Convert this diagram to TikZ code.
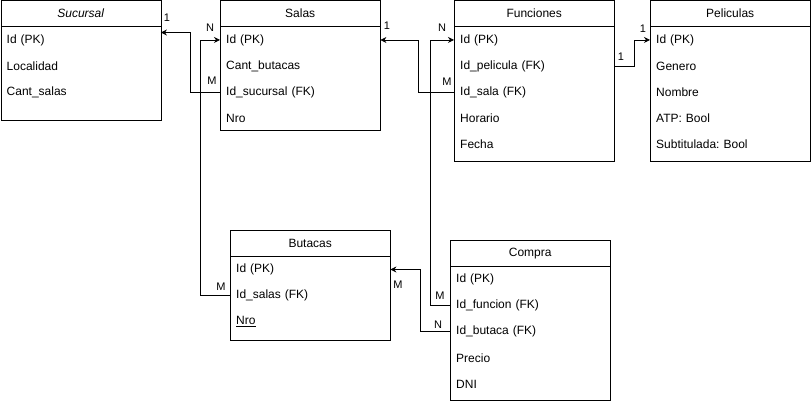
\documentclass[tikz,border=0pt]{standalone}
\usepackage{fontspec}
\setmainfont{Liberation Sans}
\usepackage{tikz}
\usetikzlibrary{arrows.meta,positioning}

\tikzset{
    tbl/.style={draw, rectangle, minimum width=160pt, anchor=north west, inner sep=0pt},
    head/.style={draw, rectangle, minimum width=160pt, minimum height=26pt, anchor=north, inner sep=0pt},
    field/.style={minimum height=25.75pt, text width=148pt, align=left, inner xsep=6pt, inner ysep=0pt, anchor=north},
    arrow/.style={-{Stealth[length=6pt,width=6pt]}, line width=0.8pt},
    card/.style={font=\fontsize{11}{12}\selectfont, inner sep=0pt}
}

\begin{document}
\frenchspacing
\begin{tikzpicture}[
    x=1pt, y=1pt,
    node distance=0pt,
    font=\fontsize{12}{14}\selectfont
]
    \useasboundingbox (0,0) rectangle (811,-401);

    % Sucursal
    \node[tbl, minimum height=120pt] (sucursal) at (0.5,-0.5) {};
    \node[head] (sucursal-h) at (sucursal.north) {\itshape Sucursal};
    \node[field, below=of sucursal-h] (suc-id) {Id (PK)};
    \node[field, below=of suc-id] (suc-loc) {Localidad};
    \node[field, below=of suc-loc] (suc-cant) {Cant\_salas};

    % Salas
    \node[tbl, minimum height=130pt] (salas) at (220,-0.5) {};
    \node[head] (salas-h) at (salas.north) {Salas};
    \node[field, below=of salas-h] (salas-id) {Id (PK)};
    \node[field, below=of salas-id] (salas-cant) {Cant\_butacas};
    \node[field, below=of salas-cant] (salas-fk) {Id\_sucursal (FK)};
    \node[field, below=of salas-fk] (salas-nro) {Nro};

    % Funciones
    \node[tbl, minimum height=160pt] (func) at (454,-0.5) {};
    \node[head] (func-h) at (func.north) {Funciones};
    \node[field, below=of func-h] (func-id) {Id (PK)};
    \node[field, below=of func-id] (func-peli) {Id\_pelicula (FK)};
    \node[field, below=of func-peli] (func-sala) {Id\_sala (FK)};
    \node[field, below=of func-sala] (func-hor) {Horario};
    \node[field, below=of func-hor] (func-fecha) {Fecha};

    % Peliculas
    \node[tbl, minimum height=160pt] (peli) at (650,-0.5) {};
    \node[head] (peli-h) at (peli.north) {Peliculas};
    \node[field, below=of peli-h] (peli-id) {Id (PK)};
    \node[field, below=of peli-id] (peli-gen) {Genero};
    \node[field, below=of peli-gen] (peli-nom) {Nombre};
    \node[field, below=of peli-nom] (peli-atp) {ATP: Bool};
    \node[field, below=of peli-atp] (peli-sub) {Subtitulada: Bool};

    % Butacas
    \node[tbl, minimum height=110pt] (butacas) at (230,-230) {};
    \node[head] (butacas-h) at (butacas.north) {Butacas};
    \node[field, below=of butacas-h] (butacas-id) {Id (PK)};
    \node[field, below=of butacas-id] (butacas-fk) {Id\_salas (FK)};
    \node[field, below=of butacas-fk] (butacas-nro) {\underline{Nro}};

    % Compra
    \node[tbl, minimum height=160pt] (compra) at (450,-240) {};
    \node[head] (compra-h) at (compra.north) {Compra};
    \node[field, below=of compra-h] (compra-id) {Id (PK)};
    \node[field, below=of compra-id] (compra-func) {Id\_funcion (FK)};
    \node[field, below=of compra-func] (compra-but) {Id\_butaca (FK)};
    \node[field, below=of compra-but] (compra-precio) {Precio};
    \node[field, below=of compra-precio] (compra-dni) {DNI};

    % Relations
    \draw[arrow] (salas-fk.west) -- ++(-30,0) |- ([yshift=-32pt]sucursal.north east);
    \draw[arrow] (butacas-fk.west) -- ++(-30,0) |- (salas-id.west);
    \draw[arrow] (func-sala.west) -- ++(-36,0) |- (salas-id.east);
    \draw[arrow] (compra-func.west) -- ++(-20,0) |- (func-id.west);
    \draw[arrow] (func-peli.east) -- ++(20,0) |- (peli-id.west);
    \draw[arrow] (compra-but.west) -- ++(-30,0) |- (butacas-id.east);

    % Cardinalities
    \node[card] (c-suc) at (167,-18) {1};
    \node[card] (c-salas-m) at (212,-81) {M};
    \node[card] (c-salas-n) at (210,-28) {N};
    \node[card] (c-salas-1) at (387,-26) {1};
    \node[card] (c-func-n) at (442,-28) {N};
    \node[card] (c-func-m) at (447,-82) {M};
    \node[card] (c-peli-a) at (621,-57) {1};
    \node[card] (c-peli-b) at (643,-29) {1};
    \node[card] (c-but-m) at (221,-287) {M};
    \node[card] (c-butid-m) at (398,-285) {M};
    \node[card] (c-comp-m) at (440,-296) {M};
    \node[card] (c-comp-n) at (438,-325) {N};
\end{tikzpicture}
\end{document}
